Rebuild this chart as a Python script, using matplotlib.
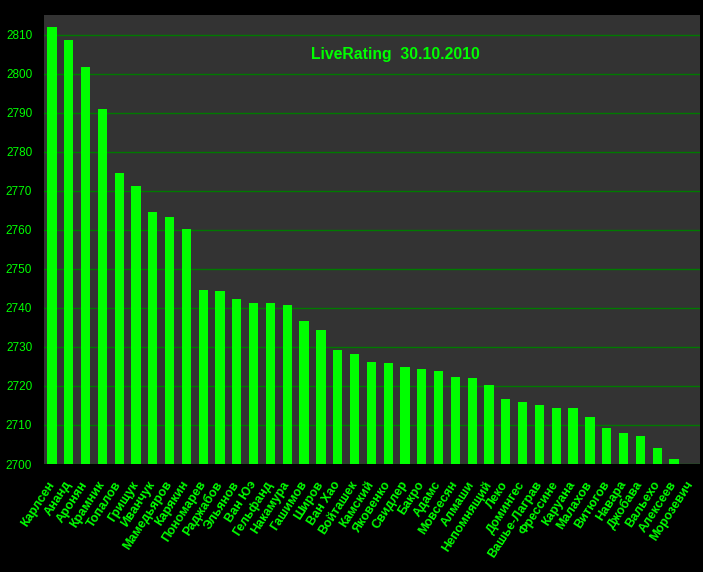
import numpy as np
import matplotlib as mpl
mpl.use('Agg')
import matplotlib.pyplot as plt

names = ['Карлсен', 'Ананд', 'Аронян', 'Крамник', 'Топалов', 'Грищук', 'Иванчук',
         'Мамедьяров', 'Карякин', 'Пономарев', 'Раджабов', 'Эльянов', 'Ван Юэ',
         'Гельфанд', 'Накамура', 'Гашимов', 'Широв', 'Ван Хао', 'Войташек', 'Камский',
         'Яковенко', 'Свидлер', 'Бакро', 'Адамс', 'Мовсесян', 'Алмаши', 'Непомнящий',
         'Леко', 'Домингес', 'Вашье-Лаграв', 'Фрессине', 'Каруана', 'Малахов',
         'Витюгов', 'Навара', 'Джобава', 'Вальехо', 'Алексеев', 'Морозевич']
rating = [2811.8, 2808.5, 2801.8, 2791.0, 2774.6, 2771.3, 2764.6, 2763.3, 2760.3,
          2744.6, 2744.4, 2742.3, 2741.3, 2741.3, 2740.8, 2736.7, 2734.4, 2729.2,
          2728.2, 2726.2, 2725.9, 2724.9, 2724.4, 2723.8, 2722.3, 2722.1, 2720.3,
          2716.7, 2715.9, 2715.1, 2714.4, 2714.4, 2712.1, 2709.2, 2707.9, 2707.2,
          2704.1, 2701.3, 2699.0]
yticks = list(range(2700, 2811, 10))
title = 'LiveRating  30.10.2010'

green = '#00ff00'

fig = plt.figure(figsize=(7.03, 5.72), dpi=100, facecolor='black')
ax = fig.add_axes([44/703, 108/572, 656/703, 449/572])
ax.set_facecolor('#333333')

x = np.arange(len(names))
ax.bar(x, rating, width=0.55, color=green, zorder=3)

ax.set_xlim(-0.47, len(names) - 0.45)
ax.set_ylim(2700, 2815)
ax.set_yticks(yticks)
ax.grid(axis='y', color='#007a00', linewidth=1, zorder=1)
for s in ax.spines.values():
    s.set_visible(False)

ax.set_xticks(x)
ax.set_xticklabels(names, rotation=57, ha='right', va='center', rotation_mode='anchor',
                   fontsize=9, fontweight='bold', color=green,
                   family='Liberation Sans')
ax.tick_params(axis='x', length=0, pad=13)
ax.tick_params(axis='y', length=0, pad=8.5, labelsize=8.5, labelcolor=green)
for t in ax.get_yticklabels():
    t.set_family('Liberation Sans')

ax.text(0.535, 0.913, title, transform=ax.transAxes, ha='center', va='center',
        fontsize=11.3, fontweight='bold', color=green, family='Liberation Sans')

fig.savefig('out.png', dpi=100, facecolor='black')
plt.close()
